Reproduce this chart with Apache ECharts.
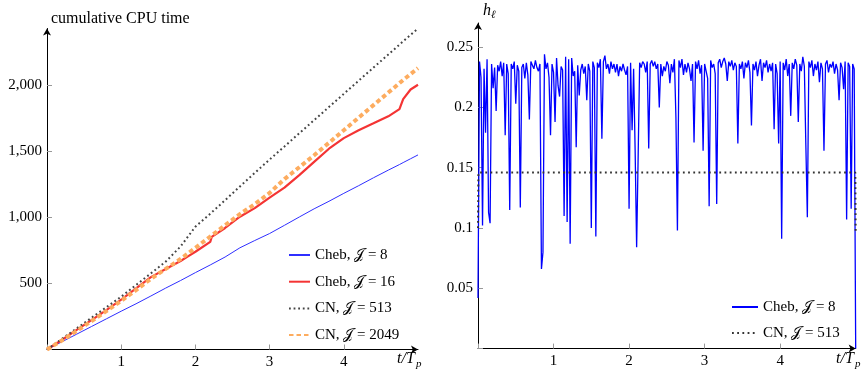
<!DOCTYPE html>
<html><head><meta charset="utf-8">
<script src="https://cdn.jsdelivr.net/npm/echarts@6/dist/echarts.min.js"></script>
<style>html,body{margin:0;padding:0;background:#fff}#c{width:866px;height:370px}</style>
</head><body><div id="c"></div>
<script>
// ---- left panel: cumulative CPU time ----
const cpuT      = [0, 0.2, 0.4, 0.6, 0.8, 1.0, 1.2, 1.4, 1.6, 1.8, 1.9, 2.0, 2.2, 2.22, 2.4, 2.6, 2.8, 3.0, 3.2, 3.4, 3.6, 3.8, 4.0, 4.2, 4.4, 4.6, 4.75, 4.8, 4.9, 5.0];
const cheb8Cpu  = [0, 58, 116, 174, 232, 290, 346, 405, 465, 522, 552, 582, 640, 646, 700, 770, 825, 878, 940, 1003, 1065, 1122, 1182, 1240, 1300, 1358, 1400, 1415, 1444, 1473];
const cheb16Cpu = [0, 72, 148, 222, 298, 378, 462, 548, 610, 670, 705, 740, 815, 852, 920, 1005, 1070, 1150, 1225, 1320, 1420, 1520, 1600, 1660, 1712, 1765, 1820, 1895, 1968, 2004];
const cn513Cpu  = [0, 80, 160, 240, 320, 400, 488, 576, 665, 780, 855, 930, 1028, 1038, 1130, 1234, 1337, 1438, 1537, 1637, 1736, 1836, 1935, 2035, 2134, 2233, 2308, 2333, 2382, 2430];
const cn2049Cpu = [0, 68, 140, 215, 290, 368, 450, 535, 610, 685, 728, 770, 855, 864, 940, 1025, 1100, 1185, 1290, 1380, 1470, 1565, 1660, 1755, 1850, 1945, 2016, 2040, 2085, 2130];

// ---- right panel: h_l ----
const hStep = 0.02; // sampling step of t/T_p
const chebH = [
 .042,.238,.225,.102,.232,.179,.240,.113,.104,.236,
 .216,.233,.197,.235,.230,.238,.226,.237,.177,.236,
 .228,.115,.236,.232,.238,.203,.235,.230,.117,.233,
 .236,.224,.237,.227,.190,.238,.235,.232,.239,.233,
 .230,.236,.066,.080,.244,.232,.237,.225,.177,.236,
 .229,.188,.241,.218,.209,.234,.231,.110,.242,.105,
 .240,.087,.241,.226,.230,.167,.235,.210,.231,.236,
 .228,.234,.206,.236,.230,.100,.238,.233,.093,.237,
 .233,.240,.174,.238,.243,.232,.236,.228,.238,.232,
 .236,.229,.236,.226,.234,.230,.236,.231,.227,.234,
 .116,.237,.181,.232,.165,.084,.159,.237,.233,.238,
 .236,.229,.238,.166,.236,.239,.234,.238,.232,.236,
 .200,.236,.226,.234,.230,.238,.235,.220,.236,.229,
 .240,.192,.098,.239,.233,.240,.227,.236,.229,.237,
 .232,.222,.236,.171,.238,.232,.239,.228,.235,.164,
 .236,.230,.224,.118,.239,.233,.236,.228,.120,.237,
 .240,.233,.238,.241,.236,.222,.238,.234,.239,.231,
 .237,.234,.170,.236,.232,.238,.224,.237,.233,.239,
 .229,.185,.236,.231,.238,.226,.235,.240,.222,.237,
 .233,.239,.229,.236,.230,.237,.182,.236,.228,.170,
 .238,.091,.237,.231,.240,.226,.236,.193,.237,.232,
 .240,.235,.188,.236,.230,.242,.234,.169,.109,.238,
 .233,.239,.226,.236,.231,.238,.221,.237,.232,.164,
 .236,.239,.229,.236,.233,.238,.228,.236,.231,.206,
 .237,.233,.215,.238,.107,.237,.234,.116,.236,.232,
 .0
];
const cnHT = [0, 0.005, 4.995, 5];
const cnH  = [0.1, 0.146, 0.146, 0.095];

const namesL = ['Cheb, 𝒥 = 8', 'Cheb, 𝒥 = 16', 'CN, 𝒥 = 513', 'CN, 𝒥 = 2049'];
const namesR = ['Cheb, 𝒥 = 8\u200b', 'CN, 𝒥 = 513\u200b'];

const zip = (xs, ys) => xs.map((x, i) => [x, ys[i]]);
const FONT = '"Liberation Serif","DejaVu Serif",serif';
const isMult = (v, step) => Math.abs(v / step - Math.round(v / step)) < 1e-6;

const axisCommon = {
  axisLine: {show: true, lineStyle: {color: '#000', width: 1}, symbol: ['none', 'arrow'], symbolSize: [6, 7]},
  axisTick: {show: true, inside: true, length: 5, lineStyle: {color: '#999'}},
  splitLine: {show: false},
  axisLabel: {fontFamily: FONT, fontSize: 15, color: '#000', margin: 5, showMaxLabel: false}
};
const lab = f => Object.assign({}, axisCommon.axisLabel, {formatter: f});

const chart = echarts.init(document.getElementById('c'), null, {renderer: 'canvas'});
chart.setOption({
  animation: false,
  backgroundColor: '#fff',
  grid: [
    {left: 47, top: 28.5, width: 371, height: 321},
    {left: 478, top: 23, width: 377.7, height: 325.6}
  ],
  xAxis: [
    Object.assign({}, axisCommon, {type: 'value', gridIndex: 0, min: 0, max: 5, interval: 1,
      axisLabel: lab(v => (v === 0 || v === 5) ? '' : String(v))}),
    Object.assign({}, axisCommon, {type: 'value', gridIndex: 1, min: 0, max: 5, interval: 1,
      axisLabel: lab(v => (v === 0 || v === 5) ? '' : String(v))})
  ],
  yAxis: [
    Object.assign({}, axisCommon, {type: 'value', gridIndex: 0, min: 0, max: 2430, interval: 500,
      axisLabel: lab(v => (v === 0 || !isMult(v, 500)) ? '' : v.toLocaleString('en-US'))}),
    Object.assign({}, axisCommon, {type: 'value', gridIndex: 1, min: 0, max: 0.27, interval: 0.05,
      axisLabel: lab(v => (v === 0 || !isMult(v, 0.05)) ? '' : String(parseFloat(v.toFixed(2))))})
  ],
  legend: [
    {data: namesL, orient: 'vertical', left: 283, top: 242, itemWidth: 21, itemHeight: 12, itemGap: 10.7,
     itemStyle: {color: 'rgba(0,0,0,0)', borderColor: 'rgba(0,0,0,0)', borderWidth: 0, opacity: 0},
     textStyle: {fontFamily: FONT, fontSize: 15, color: '#000', lineHeight: 16}, selectedMode: false},
    {data: namesR, orient: 'vertical', left: 726, top: 294, itemWidth: 26, itemHeight: 12, itemGap: 10,
     itemStyle: {color: 'rgba(0,0,0,0)', borderColor: 'rgba(0,0,0,0)', borderWidth: 0, opacity: 0},
     textStyle: {fontFamily: FONT, fontSize: 15, color: '#000', lineHeight: 16}, selectedMode: false}
  ],
  series: [
    {name: namesL[0], type: 'line', xAxisIndex: 0, yAxisIndex: 0, symbol: 'none', data: zip(cpuT, cheb8Cpu),
     lineStyle: {color: '#2f2fff', width: 1}, itemStyle: {color: '#2f2fff'}},
    {name: namesL[1], type: 'line', xAxisIndex: 0, yAxisIndex: 0, symbol: 'none', data: zip(cpuT, cheb16Cpu),
     lineStyle: {color: '#f43434', width: 2.2}, itemStyle: {color: '#f43434'}},
    {name: namesL[2], type: 'line', xAxisIndex: 0, yAxisIndex: 0, symbol: 'none', data: zip(cpuT, cn513Cpu),
     lineStyle: {color: '#444', width: 2, type: [1.8, 2.8]}, itemStyle: {color: '#444'}},
    {name: namesL[3], type: 'line', xAxisIndex: 0, yAxisIndex: 0, symbol: 'none', data: zip(cpuT, cn2049Cpu),
     lineStyle: {color: '#fdac5f', width: 4, type: [4.5, 3]}, itemStyle: {color: '#fdac5f'}},
    {name: namesR[0], type: 'line', xAxisIndex: 1, yAxisIndex: 1, symbol: 'none',
     data: chebH.map((v, i) => [i * hStep, v]),
     lineStyle: {color: '#0000ff', width: 1.3}, itemStyle: {color: '#0000ff'}},
    {name: namesR[1], type: 'line', xAxisIndex: 1, yAxisIndex: 1, symbol: 'none', data: zip(cnHT, cnH),
     lineStyle: {color: '#333', width: 2, type: [1.8, 3.4]}, itemStyle: {color: '#333'}}
  ],
  graphic: [
    {type: 'text', left: 51, top: 11, style: {text: 'cumulative CPU time', font: '16px ' + FONT, fill: '#000'}},
    {type: 'text', left: 397, top: 351, style: {text: 't/T', font: 'italic 16px ' + FONT, fill: '#000'}},
    {type: 'text', left: 416, top: 359, style: {text: 'p', font: 'italic 11px ' + FONT, fill: '#000'}},
    {type: 'text', left: 836, top: 351, style: {text: 't/T', font: 'italic 16px ' + FONT, fill: '#000'}},
    {type: 'text', left: 855, top: 359, style: {text: 'p', font: 'italic 11px ' + FONT, fill: '#000'}},
    {type: 'text', left: 483, top: 3, style: {text: 'h', font: 'italic 16px ' + FONT, fill: '#000'}},
    {type: 'text', left: 491, top: 10, style: {text: 'ℓ', font: 'italic 11px ' + FONT, fill: '#000'}}
  ]
});
</script>
</body></html>
